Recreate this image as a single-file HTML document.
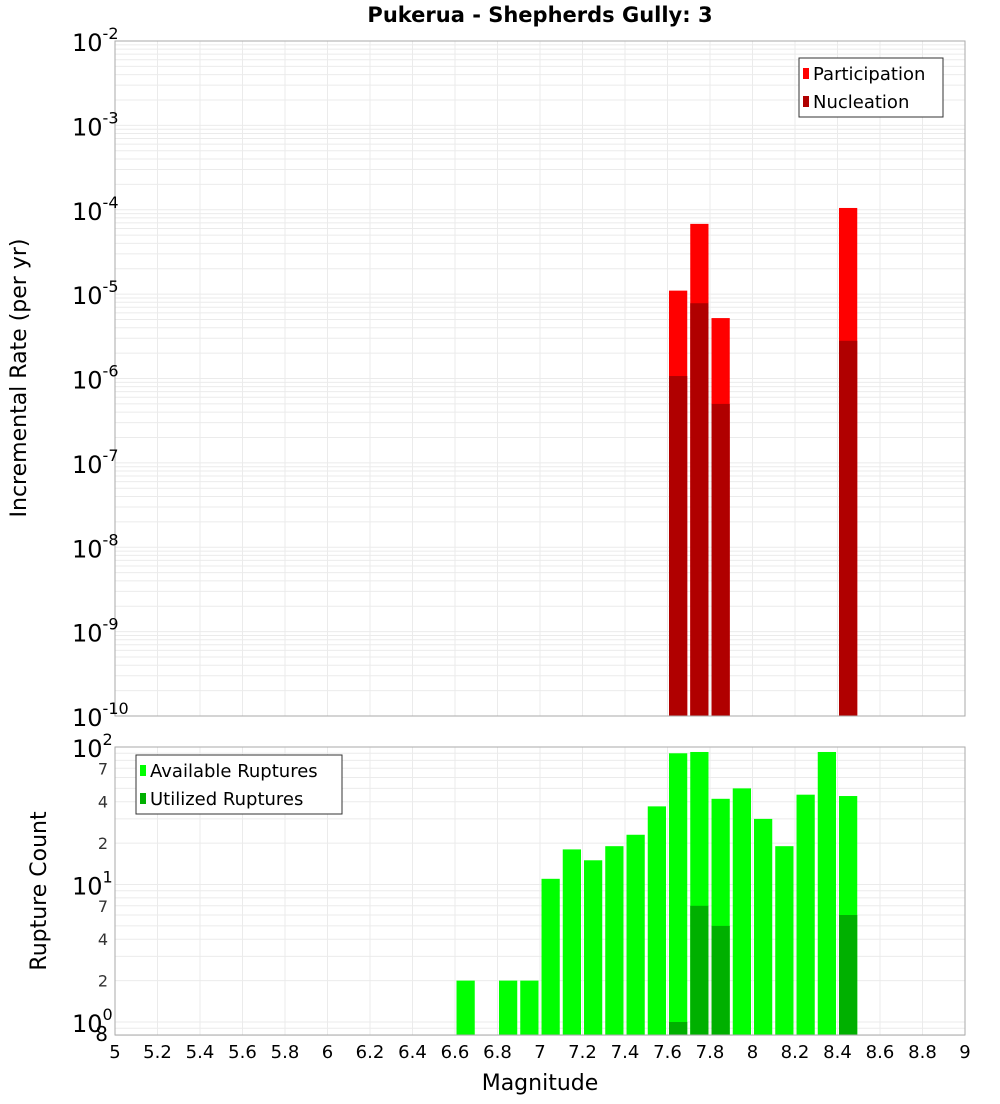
<!DOCTYPE html>
<html><head><meta charset="utf-8"><style>
body{margin:0;background:#fff;font-family:"DejaVu Sans","Liberation Sans",sans-serif;}
svg text{font-family:"DejaVu Sans","Liberation Sans",sans-serif;}
</style></head><body>
<svg id="chart" width="1000" height="1100" xmlns="http://www.w3.org/2000/svg">
<text x="540" y="22" text-anchor="middle" font-size="21" font-weight="bold">Pukerua - Shepherds Gully: 3</text>
<g id="topPanel"></g><g id="botPanel"></g>
<text transform="translate(26,378) rotate(-90)" text-anchor="middle" font-size="22">Incremental Rate (per yr)</text>
<text transform="translate(46,891) rotate(-90)" text-anchor="middle" font-size="22">Rupture Count</text>
<text x="540" y="1090" text-anchor="middle" font-size="22">Magnitude</text>
</svg>
<script>
const binStarts = [7.6, 7.7, 7.8, 8.4];
const participation = [1.1e-5, 6.8e-5, 5.2e-6, 1.05e-4];
const nucleation = [1.07e-6, 7.8e-6, 5.0e-7, 2.8e-6];
const countBins = [6.6, 6.8, 6.9, 7.0, 7.1, 7.2, 7.3, 7.4, 7.5, 7.6, 7.7, 7.8, 7.9, 8.0, 8.1, 8.2, 8.3, 8.4];
const available = [2, 2, 2, 11, 18, 15, 19, 23, 37, 90, 92, 42, 50, 30, 19, 45, 92, 44];
const utilBins = [7.6, 7.7, 7.8, 8.4];
const utilized = [1, 7, 5, 6];
const xTicks = [5, 5.2, 5.4, 5.6, 5.8, 6, 6.2, 6.4, 6.6, 6.8, 7, 7.2, 7.4, 7.6, 7.8, 8, 8.2, 8.4, 8.6, 8.8, 9];
const topDecades = [-2, -3, -4, -5, -6, -7, -8, -9, -10];
const botMajor = [2, 1, 0];
const botMinorLabels = ['7', '4', '2'];

const NS = 'http://www.w3.org/2000/svg';
const L = 115, R = 965;
const xs = m => L + (m - 5) / 4 * (R - L);
const T1 = 41, B1 = 716;
const yTop = v => T1 + (-2 - Math.log10(v)) * (B1 - T1) / 8;
const T2 = 747, B2 = 1035;
const yBot = v => 1022 - 137.5 * Math.log10(v);
function mk(p, tag, a, txt) { const e = document.createElementNS(NS, tag); for (const k in a) e.setAttribute(k, a[k]); if (txt != null) e.textContent = txt; p.appendChild(e); return e; }
const topG = document.getElementById('topPanel'), botG = document.getElementById('botPanel');

mk(topG, 'rect', {x: L, y: T1, width: R - L, height: B1 - T1, fill: '#fff'});
for (let d = -10; d < -2; d++) for (let k = 1; k < 10; k++) {
  const y = yTop(k * Math.pow(10, d));
  const g = mk(topG, 'line', {x1: L, x2: R, y1: y, y2: y, stroke: '#ebebeb', 'stroke-width': 1});
  
  
}
xTicks.forEach(t => { const x = xs(t); mk(topG, 'line', {x1: x, x2: x, y1: T1, y2: B1, stroke: '#ebebeb'}); mk(botG, 'line', {x1: x, x2: x, y1: T2, y2: B2, stroke: '#ebebeb'}); });
binStarts.forEach((b, i) => {
  const x = xs(b) + 1.5, w = xs(b + 0.1) - xs(b) - 3;
  const p = mk(topG, 'rect', {x: x, y: yTop(participation[i]), width: w, height: B1 - yTop(participation[i]), fill: '#ff0000'});
  
  
  const n = mk(topG, 'rect', {x: x, y: yTop(nucleation[i]), width: w, height: B1 - yTop(nucleation[i]), fill: '#b00000'});
  
  
});
mk(topG, 'rect', {x: L, y: T1, width: R - L, height: B1 - T1, fill: 'none', stroke: '#aaa'});
topDecades.forEach(d => {
  const y = yTop(Math.pow(10, d));
  const t = mk(topG, 'text', {x: 72, y: y + 10, 'font-size': 24}, '10');
  
  
  mk(t, 'tspan', {dy: -12, 'font-size': 16}, String(d));
});
const lg = mk(topG, 'g', {});


mk(lg, 'rect', {x: 799, y: 58, width: 144, height: 59, fill: '#fff', stroke: '#333'});
mk(lg, 'rect', {x: 803, y: 68, width: 6, height: 11, fill: '#ff0000'});
mk(lg, 'text', {x: 813, y: 80, 'font-size': 18}, 'Participation');
mk(lg, 'rect', {x: 803, y: 96, width: 6, height: 11, fill: '#b00000'});
mk(lg, 'text', {x: 813, y: 108, 'font-size': 18}, 'Nucleation');

[0.8,0.9,1,2,3,4,5,6,7,8,9,10,20,30,40,50,60,70,80,90,100].forEach(v => { const y = yBot(v); mk(botG, 'line', {x1: L, x2: R, y1: y, y2: y, stroke: '#ebebeb'}); });
countBins.forEach((b, i) => {
  const x = xs(b) + 1.5, w = xs(b + 0.1) - xs(b) - 3, y = yBot(available[i]);
  const r = mk(botG, 'rect', {x: x, y: y, width: w, height: B2 - y, fill: '#00ff00'});
  
  
});
utilBins.forEach((b, i) => {
  const x = xs(b) + 1.5, w = xs(b + 0.1) - xs(b) - 3, y = yBot(utilized[i]);
  const r = mk(botG, 'rect', {x: x, y: y, width: w, height: B2 - y, fill: '#00b000'});
  
  
});
mk(botG, 'rect', {x: L, y: T2, width: R - L, height: B2 - T2, fill: 'none', stroke: '#aaa'});
botMajor.forEach(d => {
  const y = yBot(Math.pow(10, d));
  const t = mk(botG, 'text', {x: 72, y: y + 10, 'font-size': 24}, '10');
  
  
  mk(t, 'tspan', {dy: -12, 'font-size': 16}, String(d));
  if (d > 0) botMinorLabels.forEach(m => {
    const v = Number(m) * Math.pow(10, d - 1);
    mk(botG, 'text', {x: 108, y: yBot(v) + 6, 'font-size': 16, 'text-anchor': 'end', fill: '#333'}, m);
  });
});
mk(botG, 'text', {x: 108, y: 1041, 'font-size': 20, 'text-anchor': 'end'}, '8');
xTicks.forEach(t => {
  const e = mk(botG, 'text', {x: xs(t), y: 1058, 'font-size': 18, 'text-anchor': 'middle'}, String(t));
  
  
});
const lb = mk(botG, 'g', {});


mk(lb, 'rect', {x: 136, y: 755, width: 206, height: 59, fill: '#fff', stroke: '#333'});
mk(lb, 'rect', {x: 140, y: 765, width: 6, height: 11, fill: '#00ff00'});
mk(lb, 'text', {x: 150, y: 777, 'font-size': 18}, 'Available Ruptures');
mk(lb, 'rect', {x: 140, y: 793, width: 6, height: 11, fill: '#00b000'});
mk(lb, 'text', {x: 150, y: 805, 'font-size': 18}, 'Utilized Ruptures');
</script>
</body></html>
